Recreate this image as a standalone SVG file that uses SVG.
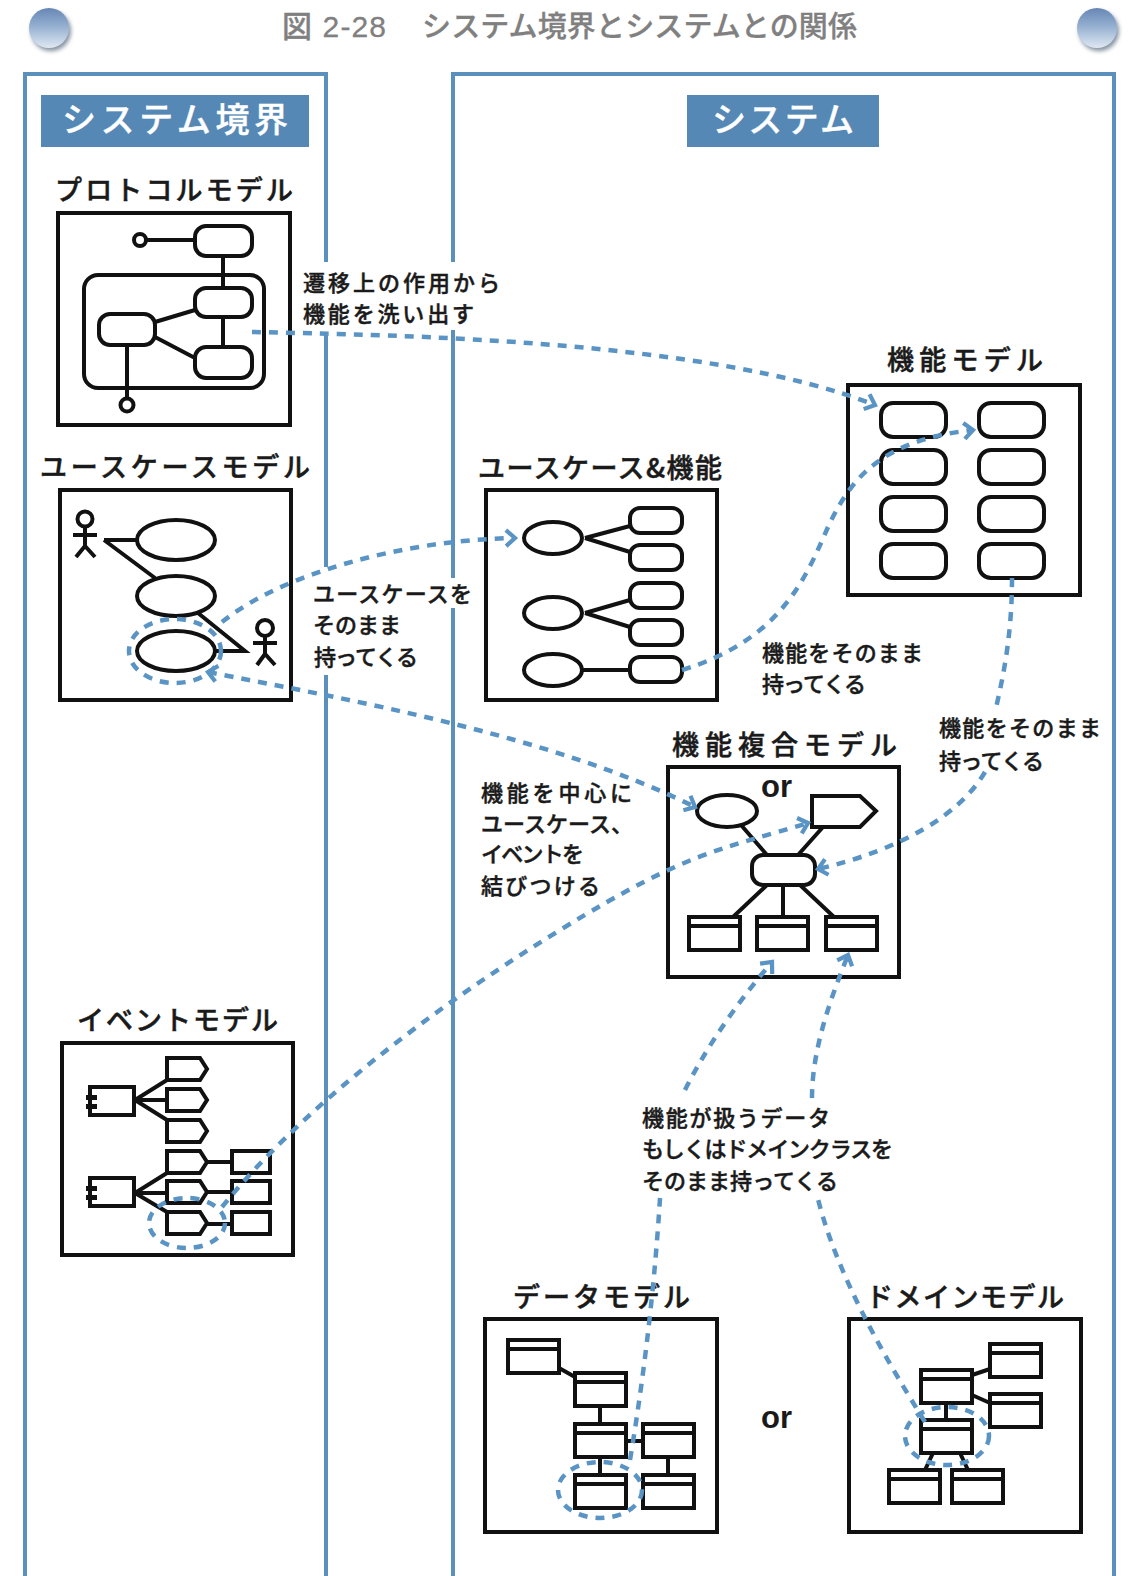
<svg xmlns="http://www.w3.org/2000/svg" width="1128" height="1576" viewBox="0 0 1128 1576">
<style>
text{font-family:"Noto Sans CJK JP","Noto Sans",sans-serif;fill:#1a1a1a;font-weight:500}
.ttl{font-size:27px;stroke:#1a1a1a;stroke-width:.5}
.lbl{font-size:22px;stroke:#1a1a1a;stroke-width:.45}
.hdr{font-size:34px;fill:#fff;stroke:#fff;stroke-width:.4}
.cap{font-size:29px;fill:#808080;stroke:#808080;stroke-width:.3}
.capn{font-family:"Liberation Sans","Noto Sans CJK JP",sans-serif;font-size:30px;fill:#808080;stroke:#808080;stroke-width:.3}
.or{font-family:"Liberation Sans",sans-serif;font-size:31px;font-weight:700}
.s{fill:none;stroke:#111;stroke-width:4}
.f{fill:#fff;stroke:#111;stroke-width:4}
.frame{fill:none;stroke:#5b90bd;stroke-width:4}
.d{fill:none;stroke:#5a94c4;stroke-width:4.5;stroke-dasharray:9 8}
.a{marker-end:url(#arr)}
.b{marker-start:url(#arr)}
</style>
<defs>
<marker id="arr" markerUnits="userSpaceOnUse" markerWidth="24" markerHeight="24" refX="12" refY="12" orient="auto-start-reverse" overflow="visible">
<path d="M3 4L12 12L3 20" fill="none" stroke="#5a94c4" stroke-width="4.2"/>
</marker>
<linearGradient id="ball" x1="0" y1="0" x2="0" y2="1">
<stop offset="0" stop-color="#6686b4"/><stop offset=".45" stop-color="#94afd0"/><stop offset="1" stop-color="#dfe8f2"/>
</linearGradient>
<filter id="blur" x="-30%" y="-30%" width="160%" height="160%"><feGaussianBlur stdDeviation="2"/></filter>
<g id="ball-shape">
<circle cx="2" cy="3" r="20" fill="#8592a0" filter="url(#blur)"/>
<circle r="20" fill="url(#ball)"/>
</g>
<g id="cls"><rect class="f" width="51" height="33"/><path class="s" d="M0 9H51"/></g>
<rect id="rr" class="f" width="65" height="34" rx="12"/>
<rect id="rs" class="f" width="52" height="25" rx="10"/>
<path id="pent" class="f" d="M0 0H33L40 11L33 22H0Z"/>
<rect id="ent" class="f" width="38" height="22"/>
<g id="comp"><rect class="f" width="44" height="28"/><path d="M-4 8H7V13H-4ZM-4 17H7V22H-4Z" fill="#111"/></g>
</defs>

<g id="caption">
<use href="#ball-shape" x="49" y="28"/>
<use href="#ball-shape" x="1097" y="28"/>
<text class="capn" x="282" y="37" textLength="104">図 2-28</text>
<text class="cap" x="422" y="37" textLength="435">システム境界とシステムとの関係</text>
</g>

<g id="frame-boundary">
<path class="frame" d="M25 1576V74H326V262M326 335V567M326 675V1576"/>
<rect x="41" y="95" width="268" height="52" fill="#5588b5"/>
<text class="hdr" x="62" y="132" textLength="226">システム境界</text>
</g>
<g id="frame-system">
<path class="frame" d="M453 262V74H1114V1576M453 330V578M453 608V1576"/>
<rect x="687" y="95" width="192" height="52" fill="#5588b5"/>
<text class="hdr" x="712" y="132" textLength="142">システム</text>
</g>

<g id="protocol-model">
<text class="ttl" x="55" y="200" textLength="238">プロトコルモデル</text>
<rect class="s" x="58" y="213" width="232" height="212"/>
<rect class="s" x="84" y="275" width="180" height="113" rx="14"/>
<path class="s" d="M146 240H195M223 256V288M223 316V347M155 322L195 310M155 337L195 358M127 344V398"/>
<circle class="f" cx="140" cy="240" r="6"/>
<circle class="f" cx="127" cy="405" r="6.5"/>
<rect class="f" x="195" y="226" width="57" height="30" rx="11"/>
<rect class="f" x="195" y="288" width="57" height="29" rx="11"/>
<rect class="f" x="195" y="347" width="57" height="31" rx="11"/>
<rect class="f" x="99" y="314" width="56" height="31" rx="11"/>
</g>

<g id="usecase-model">
<text class="ttl" x="40" y="477" textLength="270">ユースケースモデル</text>
<rect class="s" x="60" y="490" width="231" height="210"/>
<circle class="s" cx="85" cy="519" r="7.5"/>
<path class="s" d="M73 535H97M85 527V546M76 557L85 546L95 557M104 540H137M104 540L155 578M198 613L245 651H215"/>
<ellipse class="f" cx="176" cy="540" rx="39" ry="20"/>
<ellipse class="f" cx="176" cy="596" rx="39" ry="20"/>
<ellipse class="f" cx="176" cy="651" rx="39" ry="20"/>
<circle class="s" cx="265" cy="628" r="8"/>
<path class="s" d="M253 643H277M265 636V654M257 665L265 654L275 665"/>
</g>

<g id="event-model">
<text class="ttl" x="77" y="1030" textLength="201">イベントモデル</text>
<rect class="s" x="62" y="1043" width="231" height="212"/>
<path class="s" d="M135 1100L167 1080M135 1100H167M135 1100L167 1120M135 1193L167 1173M135 1193H167M135 1193L167 1212M205 1162H232M205 1192H232M205 1224H232"/>
<use href="#comp" x="90" y="1087"/>
<use href="#comp" x="90" y="1178"/>
<use href="#pent" x="167" y="1058"/>
<use href="#pent" x="167" y="1089"/>
<use href="#pent" x="167" y="1120"/>
<use href="#pent" x="167" y="1151"/>
<use href="#pent" x="167" y="1181"/>
<use href="#pent" x="167" y="1212"/>
<use href="#ent" x="232" y="1151"/>
<use href="#ent" x="232" y="1181"/>
<use href="#ent" x="232" y="1212"/>
</g>

<g id="function-model">
<text class="ttl" x="887" y="370" textLength="156">機能モデル</text>
<rect class="s" x="848" y="385" width="232" height="210"/>
<use href="#rr" x="881" y="403"/><use href="#rr" x="979" y="403"/>
<use href="#rr" x="881" y="450"/><use href="#rr" x="979" y="450"/>
<use href="#rr" x="881" y="497"/><use href="#rr" x="979" y="497"/>
<use href="#rr" x="881" y="544"/><use href="#rr" x="979" y="544"/>
</g>

<g id="usecase-function">
<text class="ttl" x="478" y="478" textLength="244">ユースケース&amp;機能</text>
<rect class="s" x="486" y="490" width="231" height="210"/>
<path class="s" d="M585 538L630 526M585 538L630 552M585 613L630 600M585 613L630 627M583 670H630"/>
<ellipse class="f" cx="553" cy="538" rx="29" ry="16"/>
<ellipse class="f" cx="553" cy="613" rx="29" ry="16"/>
<ellipse class="f" cx="553" cy="670" rx="29" ry="16"/>
<use href="#rs" x="630" y="508"/>
<use href="#rs" x="630" y="545"/>
<use href="#rs" x="630" y="583"/>
<use href="#rs" x="630" y="620"/>
<use href="#rs" x="630" y="657"/>
</g>

<g id="composite-model">
<text class="ttl" x="672" y="755" textLength="225">機能複合モデル</text>
<rect class="s" x="668" y="767" width="231" height="210"/>
<text class="or" x="761" y="797">or</text>
<path class="s" d="M741 825L767 855M823 827L798 855M767 885L733 917M783 885V917M800 885L834 917"/>
<ellipse class="f" cx="727" cy="811" rx="30" ry="16"/>
<path class="f" d="M812 796H860L876 811L860 827H812Z"/>
<rect class="f" x="752" y="855" width="63" height="30" rx="11"/>
<use href="#cls" x="689" y="917"/>
<use href="#cls" x="757" y="917"/>
<use href="#cls" x="826" y="917"/>
</g>

<g id="data-model">
<text class="ttl" x="513" y="1307" textLength="177">データモデル</text>
<rect class="s" x="485" y="1319" width="232" height="213"/>
<path class="s" d="M559 1368L575 1377M600 1406V1424M625 1441H643M600 1457V1475M668 1457V1475"/>
<use href="#cls" x="508" y="1340"/>
<use href="#cls" x="575" y="1373"/>
<use href="#cls" x="575" y="1424"/>
<use href="#cls" x="643" y="1424"/>
<use href="#cls" x="575" y="1475"/>
<use href="#cls" x="643" y="1475"/>
</g>

<text class="or" x="761" y="1428">or</text>

<g id="domain-model">
<text class="ttl" x="866" y="1307" textLength="198">ドメインモデル</text>
<rect class="s" x="849" y="1319" width="232" height="213"/>
<path class="s" d="M972 1375L990 1369M972 1395L990 1403M946 1403V1419M933 1453L925 1470M960 1453L968 1470"/>
<use href="#cls" x="990" y="1344"/>
<use href="#cls" x="990" y="1394"/>
<use href="#cls" x="921" y="1370"/>
<use href="#cls" x="921" y="1420"/>
<use href="#cls" x="889" y="1470"/>
<use href="#cls" x="952" y="1470"/>
</g>

<g id="connectors">
<ellipse class="d" cx="175" cy="651" rx="46" ry="32"/>
<ellipse class="d" cx="187" cy="1223" rx="38" ry="25"/>
<ellipse class="d" cx="600" cy="1490" rx="42" ry="28"/>
<ellipse class="d" cx="947" cy="1436" rx="42" ry="29"/>
<path class="d a" d="M252 332C400 335 710 340 875 405"/>
<path class="d a" d="M222 622C280 575 400 540 515 538"/>
<path class="d a" d="M682 670C780 640 805 580 828 527C850 480 880 440 973 430"/>
<path class="d" d="M1012 578C1012 630 1005 670 995 712"/>
<path class="d a" d="M985 772C960 815 900 850 818 869"/>
<path class="d a b" d="M208 672C350 700 550 735 695 807"/>
<path class="d a" d="M222 1207C300 1110 430 1010 560 930S720 850 808 823"/>
<path class="d" d="M630 1460C645 1370 655 1280 660 1198"/>
<path class="d a" d="M685 1090C705 1050 735 1005 772 962"/>
<path class="d" d="M925 1422C880 1350 835 1270 817 1195"/>
<path class="d a" d="M812 1098C812 1050 830 1000 848 955"/>
</g>

<g id="labels">
<text class="lbl" x="303" y="291" textLength="197">遷移上の作用から</text>
<text class="lbl" x="303" y="322" textLength="171">機能を洗い出す</text>
<text class="lbl" x="313" y="602" textLength="159">ユースケースを</text>
<text class="lbl" x="313" y="633" textLength="88">そのまま</text>
<text class="lbl" x="314" y="665" textLength="104">持ってくる</text>
<text class="lbl" x="762" y="661" textLength="161">機能をそのまま</text>
<text class="lbl" x="762" y="692" textLength="104">持ってくる</text>
<text class="lbl" x="939" y="736" textLength="162">機能をそのまま</text>
<text class="lbl" x="939" y="769" textLength="105">持ってくる</text>
<text class="lbl" x="481" y="801" textLength="151">機能を中心に</text>
<text class="lbl" x="481" y="832" textLength="152">ユースケース、</text>
<text class="lbl" x="481" y="862" textLength="103">イベントを</text>
<text class="lbl" x="481" y="894" textLength="119">結びつける</text>
<text class="lbl" x="642" y="1126" textLength="188">機能が扱うデータ</text>
<text class="lbl" x="642" y="1157" textLength="251">もしくはドメインクラスを</text>
<text class="lbl" x="642" y="1189" textLength="196">そのまま持ってくる</text>
</g>
</svg>
